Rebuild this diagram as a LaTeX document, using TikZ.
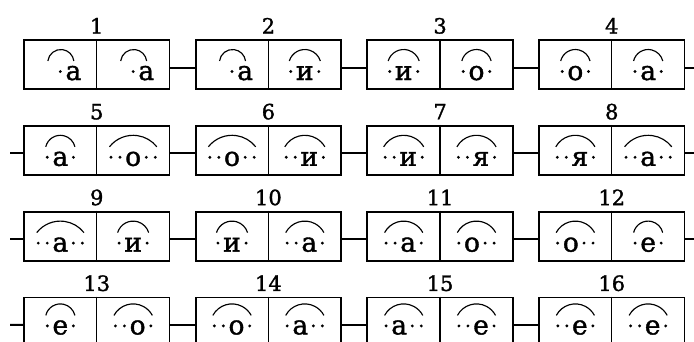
\documentclass[tikz,border=0pt]{standalone}
\usepackage{fontspec}
\setmainfont{DejaVu Serif}
\newfontfamily\letfont{DejaVu Serif}[FakeBold=1.4]
\usetikzlibrary{calc}
\tikzset{
  boxn/.style={draw, line width=1.8pt, minimum width=145.5pt, minimum height=49pt, inner sep=0pt},
  divider/.style={line width=1.3pt},
  conn/.style={line width=2pt},
  letr/.style={inner sep=0pt, font=\letfont\fontsize{26.5}{26.5}\selectfont},
  numlab/.style={inner sep=0pt, font=\letfont\fontsize{21}{21}\selectfont},
  arcline/.style={line width=1.15pt},
}
% box: index, column, row, baseline offset below box top
\newcommand{\bx}[4]{%
  \pgfmathsetmacro\bxc{96.75+171.67*#2}%
  \pgfmathsetmacro\bxt{40+85.8*#3}%
  \pgfmathsetmacro\cxa{\bxc-36.4}%
  \pgfmathsetmacro\cxb{\bxc+36.4}%
  \pgfmathsetmacro\bxb{-\bxt-#4}%
  \node[boxn] (b#1) at (\bxc,{-\bxt-24.5}) {};
  \draw[divider] (b#1.north) -- (b#1.south);
  \node[numlab, anchor=base] (n#1) at (\bxc,{-\bxt+6.5}) {#1};
}
% normal cell: name, center x, baseline y, dots before, letter, dots after
\newcommand{\cellN}[6]{%
  \node[letr, anchor=base] (#1) at ({#2+(#4-#6)*4.5},#3) {#5};
  \foreach \k in {1,...,#4} \fill ($(#1.base west)+({-5-9*(\k-1)},8.5)$) circle[radius=1.6];
  \foreach \k in {1,...,#6} \fill ($(#1.base east)+({5+9*(\k-1)},8.5)$) circle[radius=1.6];
  \draw[arcline] let \p1=(#1.base west), \p2=(#1.base east),
    \n1={\x1-5-9*(#4-1)-1.5}, \n2={\x2+5+9*(#6-1)+1.5},
    \n3={(\n2-\n1)/2}, \n4={(\n3*\n3+11.5*11.5)/23}, \n5={asin(\n3/\n4)}
    in (\n1,\y1+19) arc[start angle=90+\n5, end angle=90-\n5, radius=\n4];
}
% special cell: one dot at the centre, letter to its right
\newcommand{\cellS}[4]{%
  \node[letr, anchor=base west] (#1) at (#2+5,#3) {#4};
  \fill ($(#1.base west)+(-5,8.5)$) circle[radius=1.6];
  \draw[arcline] ($(#1.base west)+(-17.5,19)$) arc[start angle=173, end angle=7, radius=13.1];
}
\begin{document}
\begin{tikzpicture}[x=1pt,y=1pt]
\useasboundingbox (0,0) rectangle (694,-341);
\bx{1}{0}{0}{40}  \cellS{c1a}{\cxa}{\bxb}{а}    \cellS{c1b}{\cxb}{\bxb}{а}
\bx{2}{1}{0}{40}  \cellS{c2a}{\cxa}{\bxb}{а}    \cellN{c2b}{\cxb}{\bxb}{1}{и}{1}
\bx{3}{2}{0}{40}  \cellN{c3a}{\cxa}{\bxb}{1}{и}{1} \cellN{c3b}{\cxb}{\bxb}{1}{о}{1}
\bx{4}{3}{0}{40}  \cellN{c4a}{\cxa}{\bxb}{1}{о}{1} \cellN{c4b}{\cxb}{\bxb}{1}{а}{1}
\bx{5}{0}{1}{40}  \cellN{c5a}{\cxa}{\bxb}{1}{а}{1} \cellN{c5b}{\cxb}{\bxb}{2}{о}{2}
\bx{6}{1}{1}{40}  \cellN{c6a}{\cxa}{\bxb}{2}{о}{2} \cellN{c6b}{\cxb}{\bxb}{2}{и}{1}
\bx{7}{2}{1}{40}  \cellN{c7a}{\cxa}{\bxb}{2}{и}{1} \cellN{c7b}{\cxb}{\bxb}{2}{я}{1}
\bx{8}{3}{1}{40}  \cellN{c8a}{\cxa}{\bxb}{2}{я}{1} \cellN{c8b}{\cxb}{\bxb}{2}{а}{2}
\bx{9}{0}{2}{40}  \cellN{c9a}{\cxa}{\bxb}{2}{а}{2} \cellN{c9b}{\cxb}{\bxb}{1}{и}{1}
\bx{10}{1}{2}{40} \cellN{c10a}{\cxa}{\bxb}{1}{и}{1} \cellN{c10b}{\cxb}{\bxb}{2}{а}{1}
\bx{11}{2}{2}{40} \cellN{c11a}{\cxa}{\bxb}{2}{а}{1} \cellN{c11b}{\cxb}{\bxb}{1}{о}{2}
\bx{12}{3}{2}{40} \cellN{c12a}{\cxa}{\bxb}{1}{о}{2} \cellN{c12b}{\cxb}{\bxb}{1}{е}{1}
\bx{13}{0}{3}{37} \cellN{c13a}{\cxa}{\bxb}{1}{е}{1} \cellN{c13b}{\cxb}{\bxb}{2}{о}{1}
\bx{14}{1}{3}{37} \cellN{c14a}{\cxa}{\bxb}{2}{о}{1} \cellN{c14b}{\cxb}{\bxb}{1}{а}{2}
\bx{15}{2}{3}{37} \cellN{c15a}{\cxa}{\bxb}{1}{а}{2} \cellN{c15b}{\cxb}{\bxb}{2}{е}{1}
\bx{16}{3}{3}{37} \cellN{c16a}{\cxa}{\bxb}{2}{е}{1} \cellN{c16b}{\cxb}{\bxb}{2}{е}{1}
% free ends of connectors
\coordinate (r1) at (694,-67.5);
\coordinate (l2) at (10,-153.3);
\coordinate (r2) at (694,-153.3);
\coordinate (l3) at (10,-239.1);
\coordinate (r3) at (694,-239.1);
\coordinate (l4) at (10,-324.9);
% connectors
\draw[conn] ([yshift=-3pt]b1.east) -- ([yshift=-3pt]b2.west);
\draw[conn] ([yshift=-3pt]b2.east) -- ([yshift=-3pt]b3.west);
\draw[conn] ([yshift=-3pt]b3.east) -- ([yshift=-3pt]b4.west);
\draw[conn] ([yshift=-3pt]b4.east) -- (r1);
\draw[conn] (l2) -- ([yshift=-3pt]b5.west);
\draw[conn] ([yshift=-3pt]b5.east) -- ([yshift=-3pt]b6.west);
\draw[conn] ([yshift=-3pt]b6.east) -- ([yshift=-3pt]b7.west);
\draw[conn] ([yshift=-3pt]b7.east) -- ([yshift=-3pt]b8.west);
\draw[conn] ([yshift=-3pt]b8.east) -- (r2);
\draw[conn] (l3) -- ([yshift=-3pt]b9.west);
\draw[conn] ([yshift=-3pt]b9.east) -- ([yshift=-3pt]b10.west);
\draw[conn] ([yshift=-3pt]b10.east) -- ([yshift=-3pt]b11.west);
\draw[conn] ([yshift=-3pt]b11.east) -- ([yshift=-3pt]b12.west);
\draw[conn] ([yshift=-3pt]b12.east) -- (r3);
\draw[conn] (l4) -- ([yshift=-3pt]b13.west);
\draw[conn] ([yshift=-3pt]b13.east) -- ([yshift=-3pt]b14.west);
\draw[conn] ([yshift=-3pt]b14.east) -- ([yshift=-3pt]b15.west);
\draw[conn] ([yshift=-3pt]b15.east) -- ([yshift=-3pt]b16.west);
\end{tikzpicture}
\end{document}
